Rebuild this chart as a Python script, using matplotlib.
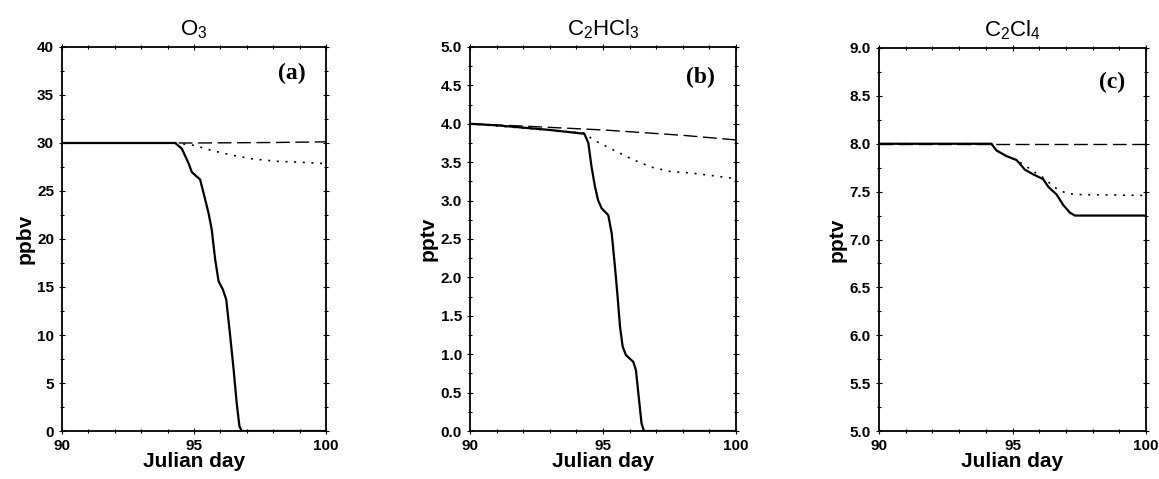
import matplotlib
matplotlib.use("Agg")
import matplotlib.pyplot as plt
from matplotlib.ticker import MultipleLocator, FormatStrFormatter

plt.rcParams['mathtext.fontset'] = 'custom'
plt.rcParams['mathtext.rm'] = 'Liberation Sans'
plt.rcParams['mathtext.it'] = 'Liberation Sans'
plt.rcParams['font.family'] = ['Liberation Sans', 'DejaVu Sans']

# ---------------- Data ----------------
# Panel (a) O3 (ppbv)
o3_solid_x = [90, 94.29, 94.54, 94.79, 94.92, 95.23, 95.36, 95.55, 95.67, 95.80, 95.93,
              96.09, 96.22, 96.37, 96.50, 96.62, 96.72, 96.81, 100]
o3_solid_y = [30, 30, 29.4, 27.9, 26.95, 26.2, 24.8, 22.7, 21.0, 17.9, 15.6,
              14.75, 13.7, 9.9, 6.4, 2.8, 0.5, 0, 0]
o3_dot_x = [90, 94.3, 95.0, 95.7, 96.5, 97.2, 98.1, 99.0, 100]
o3_dot_y = [30, 30, 29.75, 29.2, 28.7, 28.35, 28.1, 28.0, 27.85]
o3_dash_x = [90, 95, 98, 100]
o3_dash_y = [30, 30, 30.05, 30.12]

# Panel (b) C2HCl3 (pptv)
tce_solid_x = [90, 91, 92, 93, 94.3, 94.45, 94.57, 94.70, 94.82, 94.95, 95.20, 95.33, 95.45,
               95.54, 95.64, 95.74, 95.86, 96.14, 96.24, 96.33, 96.45, 96.54, 100]
tce_solid_y = [4.0, 3.98, 3.95, 3.92, 3.87, 3.75, 3.44, 3.18, 3.0, 2.9, 2.81, 2.57, 2.14,
               1.79, 1.36, 1.10, 0.99, 0.90, 0.79, 0.49, 0.10, 0, 0]
tce_dot_x = [90, 94.3, 94.64, 95.39, 96.14, 96.45, 96.77, 97.5, 98.27, 99.0, 99.9]
tce_dot_y = [4.0, 3.88, 3.79, 3.66, 3.53, 3.49, 3.44, 3.38, 3.36, 3.33, 3.29]
tce_dash_x = [90, 92, 95, 98, 100]
tce_dash_y = [4.0, 3.97, 3.92, 3.85, 3.79]

# Panel (c) C2Cl4 (pptv)
pce_solid_x = [90, 94.21, 94.40, 94.78, 95.15, 95.34, 95.46, 95.78, 96.15, 96.34, 96.65,
               96.90, 97.15, 97.34, 100]
pce_solid_y = [8.0, 8.0, 7.93, 7.87, 7.83, 7.77, 7.73, 7.68, 7.63, 7.55, 7.47,
               7.36, 7.28, 7.25, 7.25]
pce_dot_x = [90, 94.21, 94.40, 94.78, 95.15, 95.53, 96.28, 96.53, 97.03, 97.40, 100]
pce_dot_y = [8.0, 8.0, 7.93, 7.87, 7.83, 7.76, 7.62, 7.55, 7.48, 7.47, 7.46]
pce_dash_x = [90, 100]
pce_dash_y = [8.0, 8.0]

titles = [r'O$_3$', r'C$_2$HCl$_3$', r'C$_2$Cl$_4$']
ylabels = ['ppbv', 'pptv', 'pptv']
panel_labels = ['(a)', '(b)', '(c)']
ylims = [(0, 40), (0, 5.0), (5.0, 9.0)]
ymajor = [5, 0.5, 0.5]
yfmt = ['%d', '%.1f', '%.1f']
xticks = [90, 95, 100]

series = [
    (o3_solid_x, o3_solid_y, o3_dot_x, o3_dot_y, o3_dash_x, o3_dash_y),
    (tce_solid_x, tce_solid_y, tce_dot_x, tce_dot_y, tce_dash_x, tce_dash_y),
    (pce_solid_x, pce_solid_y, pce_dot_x, pce_dot_y, pce_dash_x, pce_dash_y),
]

# ---------------- Figure ----------------
fig = plt.figure(figsize=(11.59, 4.79), dpi=100)
positions = [
    [0.0535, 0.1002, 0.2278, 0.8017],
    [0.4055, 0.1002, 0.2295, 0.8017],
    [0.7584, 0.1002, 0.2304, 0.7996],
]
label_pos = [(0.871, 0.93), (0.865, 0.92), (0.873, 0.91)]

for i in range(3):
    ax = fig.add_axes(positions[i])
    sx, sy, dx, dy, ex, ey = series[i]
    ax.plot(ex, ey, color='black', lw=1.0, dashes=(10, 4))
    ax.plot(dx, dy, color='black', lw=1.2, dashes=(1.2, 4))
    ax.plot(sx, sy, color='black', lw=1.6)
    ax.set_xlim(90, 100)
    ax.set_ylim(*ylims[i])
    ax.set_xticks(xticks)
    ax.xaxis.set_minor_locator(MultipleLocator(1))
    ax.yaxis.set_major_locator(MultipleLocator(ymajor[i]))
    ax.yaxis.set_minor_locator(MultipleLocator(ymajor[i] / 2))
    ax.yaxis.set_major_formatter(FormatStrFormatter(yfmt[i]))
    ax.tick_params(which='both', direction='inout', top=True, right=True,
                   labelsize=11, width=0.8)
    ax.tick_params(which='major', length=4.5)
    ax.tick_params(which='minor', length=2.5)
    for lab in ax.get_xticklabels() + ax.get_yticklabels():
        lab.set_fontweight('bold')
    for sp in ax.spines.values():
        sp.set_linewidth(1.3)
    ax.set_title(titles[i], fontsize=16, pad=8)
    ax.set_xlabel('Julian day', fontsize=15, labelpad=-1, fontweight='bold')
    ax.set_ylabel(ylabels[i], fontsize=15, labelpad=2, fontweight='bold')
    ax.text(label_pos[i][0], label_pos[i][1], panel_labels[i], transform=ax.transAxes,
            ha='center', va='center', fontsize=17, fontweight='bold',
            family='Liberation Serif')

fig.savefig('out.png', dpi=100)
